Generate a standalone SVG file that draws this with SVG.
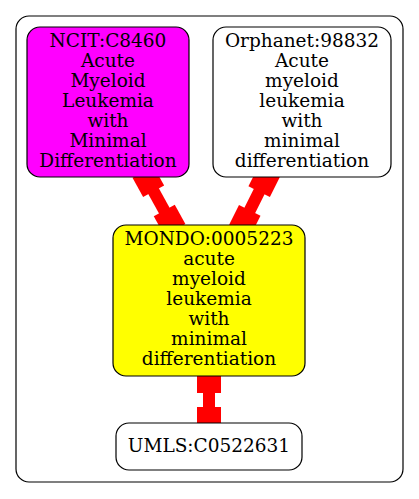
<svg xmlns="http://www.w3.org/2000/svg" width="419" height="499" viewBox="0 0 419 499">
<style>
.n{stroke:#000;stroke-width:1.2}
.t{font-family:"DejaVu Serif",serif;font-size:18.5px;text-anchor:middle;fill:#000}
.e{fill:#f00;stroke:none}
</style>
<rect x="0" y="0" width="419" height="499" fill="#fff"/>
<g id="cluster"><rect x="16" y="16" width="387" height="466" rx="13" fill="none" stroke="#000" stroke-width="1.2"/></g>
<g id="edges">
<g transform="translate(143,172) rotate(61.1)"><rect class="e" x="0" y="-6" width="66" height="12"/><rect class="e" x="0" y="-12" width="22" height="24"/><rect class="e" x="44" y="-12" width="22" height="24"/></g>
<g transform="translate(269,172) rotate(116.6)"><rect class="e" x="0" y="-6" width="65" height="12"/><rect class="e" x="0" y="-12" width="22" height="24"/><rect class="e" x="43" y="-12" width="22" height="24"/></g>
<g transform="translate(209,370) rotate(90)"><rect class="e" x="0" y="-6" width="59" height="12"/><rect class="e" x="0" y="-12" width="23" height="24"/><rect class="e" x="37" y="-12" width="22" height="24"/></g>
</g>
<g id="ncit"><rect class="n" x="27" y="27" width="162" height="150" rx="13" fill="#f0f"/>
<text class="t" x="108" y="47">NCIT:C8460</text><text class="t" x="108" y="67">Acute</text><text class="t" x="108" y="87">Myeloid</text><text class="t" x="108" y="107">Leukemia</text><text class="t" x="108" y="127">with</text><text class="t" x="108" y="147">Minimal</text><text class="t" x="108" y="167">Differentiation</text></g>
<g id="orphanet"><rect class="n" x="213" y="27" width="178" height="150" rx="13" fill="#fff"/>
<text class="t" x="302" y="47">Orphanet:98832</text><text class="t" x="302" y="67">Acute</text><text class="t" x="302" y="87">myeloid</text><text class="t" x="302" y="107">leukemia</text><text class="t" x="302" y="127">with</text><text class="t" x="302" y="147">minimal</text><text class="t" x="302" y="167">differentiation</text></g>
<g id="mondo"><rect class="n" x="113" y="225" width="192" height="151" rx="13" fill="#ff0"/>
<text class="t" x="209" y="245">MONDO:0005223</text><text class="t" x="209" y="265">acute</text><text class="t" x="209" y="285">myeloid</text><text class="t" x="209" y="305">leukemia</text><text class="t" x="209" y="325">with</text><text class="t" x="209" y="345">minimal</text><text class="t" x="209" y="365">differentiation</text></g>
<g id="umls"><rect class="n" x="116" y="423" width="186" height="47" rx="13" fill="#fff"/>
<text class="t" x="209" y="452">UMLS:C0522631</text></g>
</svg>
